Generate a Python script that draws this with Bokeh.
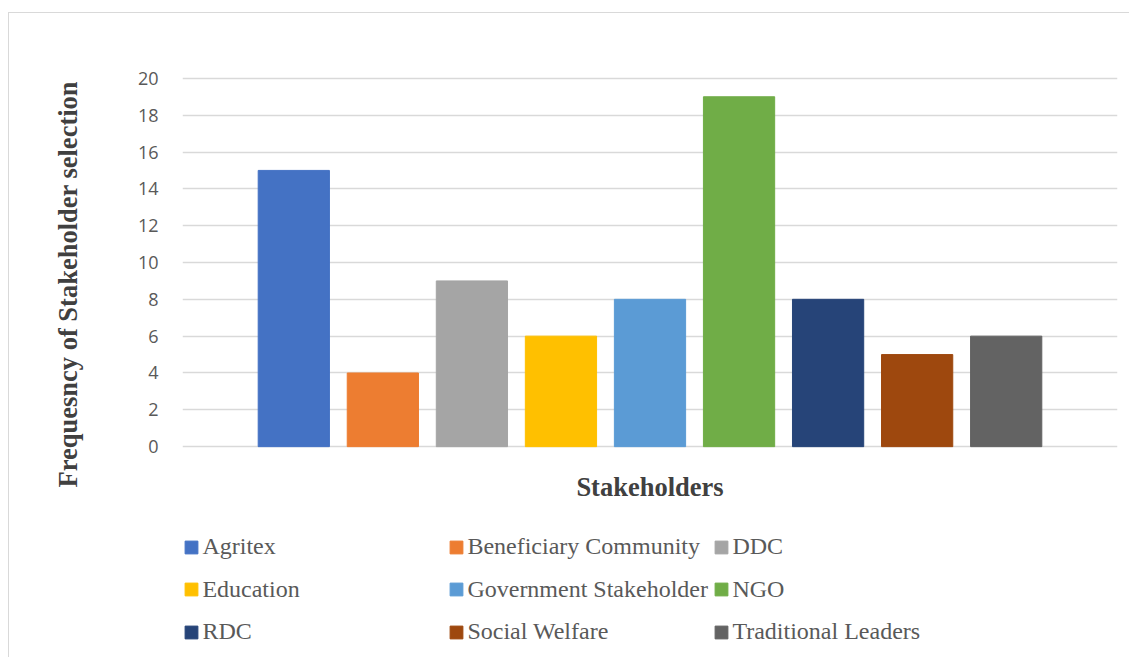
import numpy as np
from bokeh.plotting import figure
from bokeh.models import (ColumnDataSource, Range1d, FixedTicker, Legend, LegendItem,
                          Title, Label, InlineStyleSheet)
from bokeh.embed import file_html
from bokeh.resources import INLINE

# ---- data ----
stakeholders = ["Agritex", "Beneficiary Community", "DDC", "Education",
                "Government Stakeholder", "NGO", "RDC", "Social Welfare",
                "Traditional Leaders"]
frequency = [15, 4, 9, 6, 8, 19, 8, 5, 6]
colors = ["#4472C4", "#ED7D31", "#A5A5A5", "#FFC000", "#5B9BD5",
          "#70AD47", "#264478", "#9E480E", "#636363"]
y_ticks = [0, 2, 4, 6, 8, 10, 12, 14, 16, 18, 20]

positions = list(np.arange(len(stakeholders)))
src = ColumnDataSource(dict(x=positions, top=frequency, color=colors,
                            name=stakeholders))

# frame runs down to the bottom so the legend rows can live inside it
p = figure(width=1129, height=657, frame_width=935, frame_height=581,
           min_border_left=182, min_border_right=12, min_border_top=76,
           min_border_bottom=0, output_backend="svg", toolbar_location=None,
           x_axis_location=None,
           x_range=Range1d(-1.25, 9.25), y_range=Range1d(-11.45, 20.1))
p.outline_line_color = None
p.background_fill_color = "white"
p.border_fill_color = "white"

r = p.vbar(x="x", top="top", width=0.8, bottom=0, color="color", source=src)

# grid
p.xgrid.grid_line_color = None
p.ygrid.grid_line_color = "#d9d9d9"
p.ygrid.grid_line_width = 1.3
p.yaxis.ticker = FixedTicker(ticks=y_ticks)
p.ygrid.ticker = FixedTicker(ticks=y_ticks)
p.ygrid.level = "underlay"

# y axis
ya = p.yaxis[0]
ya.axis_line_color = None
ya.major_tick_line_color = None
ya.minor_tick_line_color = None
ya.major_tick_out = 0
ya.major_label_standoff = 24
ya.major_label_text_font = "Open Sans"
ya.major_label_text_font_size = "18px"
ya.major_label_text_color = "#595959"

# x-axis title
xtitle = Label(x=(positions[0] + positions[-1]) / 2, y=-2.2, text="Stakeholders",
               text_align="center", text_baseline="middle",
               text_font="Liberation Serif", text_font_style="bold",
               text_font_size="26.5px", text_color="#404040")
p.add_layout(xtitle)

# y title (side panel)
ytitle = Title(text="Frequesncy of Stakeholder selection", align="left",
               vertical_align="middle", offset=170, standoff=102,
               text_font="Liberation Serif", text_font_style="bold",
               text_font_size="26.5px", text_color="#404040")
p.add_layout(ytitle, "left")

# legends: three rows of three
row_offsets = [97, 54.5, 12]
for row in range(3):
    items = [LegendItem(label=stakeholders[i], renderers=[r], index=i)
             for i in range(row * 3, row * 3 + 3)]
    lg = Legend(items=items, orientation="horizontal",
                location=(1.4, row_offsets[row]),
                border_line_color=None, background_fill_alpha=0,
                padding=0, margin=0, spacing=0, label_standoff=3,
                glyph_width=16, glyph_height=16, label_width=246,
                label_height=16,
                label_text_font="Liberation Serif", label_text_font_size="24px",
                label_text_color="#595959")
    p.add_layout(lg)

# thin outer chart frame (as in the reference image)
p.stylesheets = [InlineStyleSheet(css="""
:host { overflow: hidden; }
:host::after { content: ""; position: absolute; left: 8px; top: 12px;
  width: 1300px; height: 800px; border: 1px solid #d9d9d9;
  pointer-events: none; }
""")]

open("out.html", "w").write(file_html(p, INLINE))
